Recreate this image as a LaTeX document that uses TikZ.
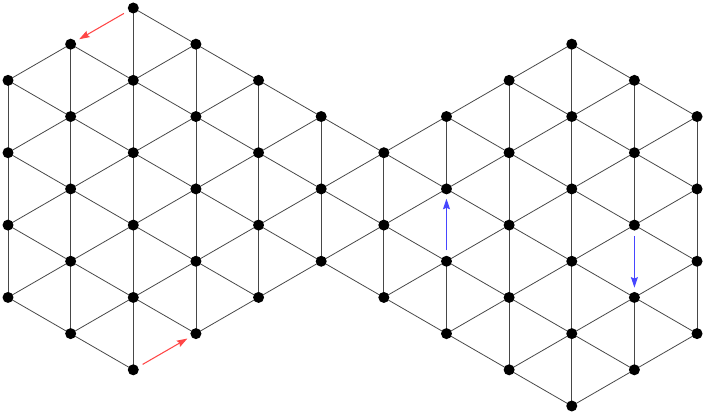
\documentclass[tikz,border=0pt]{standalone}
\usetikzlibrary{arrows.meta,backgrounds}
\definecolor{arrred}{RGB}{255,70,70}
\definecolor{arrblue}{RGB}{70,70,255}
\begin{document}
\begin{tikzpicture}[x=0.02cm,y=-0.02cm,
  dot/.style={circle,fill=black,inner sep=0pt,minimum size=0.22cm},
  edge/.style={draw=black!72,line width=0.45pt},
  move/.style={line width=0.6pt,-{Stealth[length=0.21cm,width=0.14cm,inset=0.03cm]},shorten <=0.1cm,shorten >=0.08cm}]
\useasboundingbox (0,0) rectangle (706,415);
\foreach \i/\lo/\hi in {0/2/8,1/1/9,2/0/10,3/1/9,4/2/8,5/3/7,6/4/8,7/3/9,8/2/10,9/1/11,10/2/10,11/3/9} {
  \pgfmathtruncatemacro\lnext{\lo+2}
  \foreach \j in {\lo,\lnext,...,\hi} {
    \node[dot] (n-\i-\j) at ({8+62.64*\i},{8+36.18*\j}) {};
  }
}
\expandafter\def\csname skip-1-1-2-0\endcsname{}
\expandafter\def\csname skip-2-10-3-9\endcsname{}
\expandafter\def\csname skip-7-5-7-7\endcsname{}
\expandafter\def\csname skip-10-6-10-8\endcsname{}
\begin{pgfonlayer}{background}
\foreach \i in {0,...,11} {
  \foreach \j in {0,...,11} {
    \pgfmathtruncatemacro\ip{\i+1}
    \pgfmathtruncatemacro\jm{\j-1}
    \pgfmathtruncatemacro\jp{\j+1}
    \pgfmathtruncatemacro\jpp{\j+2}
    \ifcsname pgf@sh@ns@n-\i-\j\endcsname
      \ifcsname pgf@sh@ns@n-\ip-\jm\endcsname
        \ifcsname skip-\i-\j-\ip-\jm\endcsname\else
          \draw[edge] (n-\i-\j.center) -- (n-\ip-\jm.center);
        \fi
      \fi
      \ifcsname pgf@sh@ns@n-\ip-\jp\endcsname
        \ifcsname skip-\i-\j-\ip-\jp\endcsname\else
          \draw[edge] (n-\i-\j.center) -- (n-\ip-\jp.center);
        \fi
      \fi
      \ifcsname pgf@sh@ns@n-\i-\jpp\endcsname
        \ifcsname skip-\i-\j-\i-\jpp\endcsname\else
          \draw[edge] (n-\i-\j.center) -- (n-\i-\jpp.center);
        \fi
      \fi
    \fi
  }
}
\end{pgfonlayer}
\draw[move,arrred] (n-2-0) -- (n-1-1);
\draw[move,arrred] (n-2-10) -- (n-3-9);
\draw[move,arrblue] (n-7-7) -- (n-7-5);
\draw[move,arrblue] (n-10-6) -- (n-10-8);
\end{tikzpicture}
\end{document}
